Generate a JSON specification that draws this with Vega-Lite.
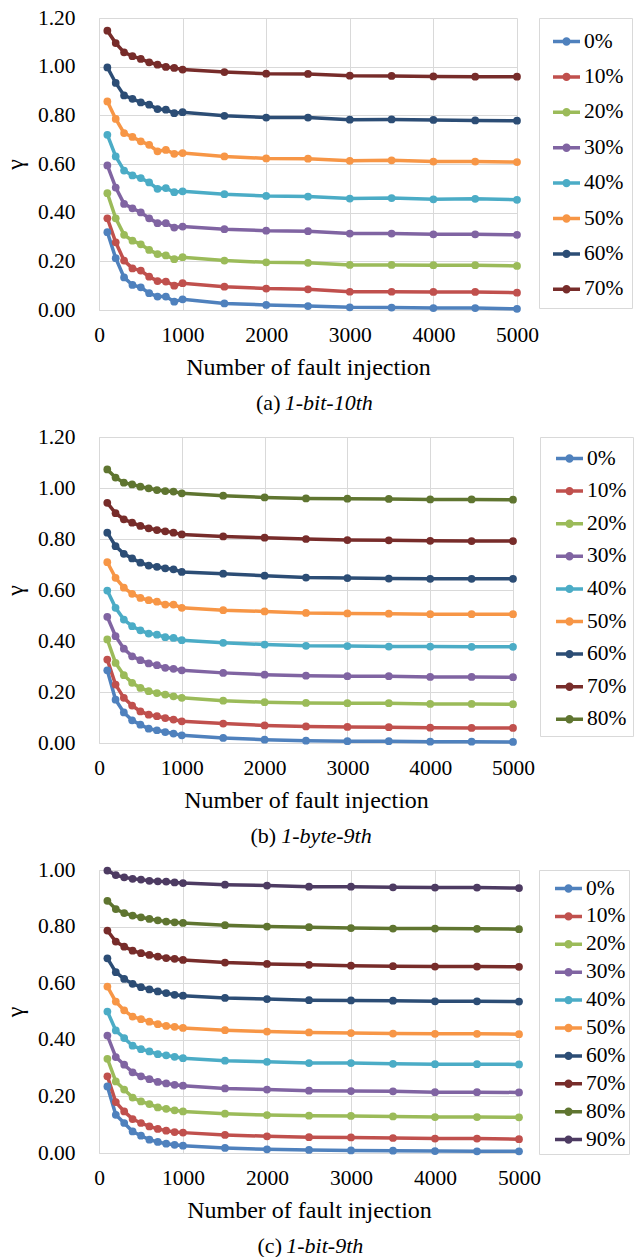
{
"$schema": "https://vega.github.io/schema/vega-lite/v6.json",
"background": "white",
"padding": {"left": 3, "top": 7, "right": 0, "bottom": 0},
"spacing": 12,
"resolve": {"scale": {"color": "independent", "x": "independent", "y": "independent"}, "legend": {"color": "independent"}},
"config": {
  "font": "Liberation Serif",
  "view": {"stroke": null},
  "style": {"guide-label": {"font": "Liberation Serif", "fill": "#000000"}, "guide-title": {"font": "Liberation Serif", "fill": "#000000"}},
  "axis": {"labelFont": "Liberation Serif", "labelFontSize": 21.5, "labelColor": "#000000", "titleFont": "Liberation Serif", "titleFontWeight": "normal", "titleColor": "#000000", "gridColor": "#D9D9D9", "domainColor": "#D9D9D9", "ticks": false, "gridWidth": 1, "domainWidth": 1, "labelFlush": false},
  "axisX": {"labelPadding": 14, "titleFontSize": 24, "titlePadding": 10, "format": "d"},
  "axisY": {"labelPadding": 24, "titleFontSize": 24, "titlePadding": 10},
  "legend": {"title": null, "orient": "right", "strokeColor": "#D9D9D9", "labelFont": "Liberation Serif", "labelFontSize": 21.5, "labelColor": "#000000", "symbolType": "M-1,0L1,0M-0.18,0A0.18,0.18,0,1,1,0.18,0A0.18,0.18,0,1,1,-0.18,0Z", "symbolSize": 729, "symbolStrokeWidth": 3.5, "labelOffset": 2},
  "title": {"font": "Liberation Serif", "fontSize": 22, "fontWeight": "normal", "color": "#000000", "subtitleFont": "Liberation Serif", "subtitleFontSize": 22, "subtitleFontStyle": "italic", "subtitleColor": "#000000", "subtitlePadding": -22, "orient": "bottom", "anchor": "middle", "frame": "group", "offset": 13}
},
"datasets": {
"a": [
{"s":"0%","x":100,"y":0.320},{"s":"0%","x":200,"y":0.213},{"s":"0%","x":300,"y":0.134},{"s":"0%","x":400,"y":0.103},{"s":"0%","x":500,"y":0.093},{"s":"0%","x":600,"y":0.069},{"s":"0%","x":700,"y":0.055},{"s":"0%","x":800,"y":0.055},{"s":"0%","x":900,"y":0.034},{"s":"0%","x":1000,"y":0.044},{"s":"0%","x":1500,"y":0.027},{"s":"0%","x":2000,"y":0.021},{"s":"0%","x":2500,"y":0.016},{"s":"0%","x":3000,"y":0.011},{"s":"0%","x":3500,"y":0.010},{"s":"0%","x":4000,"y":0.008},{"s":"0%","x":4500,"y":0.008},{"s":"0%","x":5000,"y":0.005},
{"s":"10%","x":100,"y":0.377},{"s":"10%","x":200,"y":0.278},{"s":"10%","x":300,"y":0.203},{"s":"10%","x":400,"y":0.171},{"s":"10%","x":500,"y":0.162},{"s":"10%","x":600,"y":0.137},{"s":"10%","x":700,"y":0.119},{"s":"10%","x":800,"y":0.117},{"s":"10%","x":900,"y":0.100},{"s":"10%","x":1000,"y":0.110},{"s":"10%","x":1500,"y":0.096},{"s":"10%","x":2000,"y":0.088},{"s":"10%","x":2500,"y":0.085},{"s":"10%","x":3000,"y":0.075},{"s":"10%","x":3500,"y":0.075},{"s":"10%","x":4000,"y":0.074},{"s":"10%","x":4500,"y":0.074},{"s":"10%","x":5000,"y":0.071},
{"s":"20%","x":100,"y":0.480},{"s":"20%","x":200,"y":0.377},{"s":"20%","x":300,"y":0.309},{"s":"20%","x":400,"y":0.285},{"s":"20%","x":500,"y":0.270},{"s":"20%","x":600,"y":0.247},{"s":"20%","x":700,"y":0.230},{"s":"20%","x":800,"y":0.224},{"s":"20%","x":900,"y":0.209},{"s":"20%","x":1000,"y":0.217},{"s":"20%","x":1500,"y":0.203},{"s":"20%","x":2000,"y":0.196},{"s":"20%","x":2500,"y":0.194},{"s":"20%","x":3000,"y":0.185},{"s":"20%","x":3500,"y":0.185},{"s":"20%","x":4000,"y":0.184},{"s":"20%","x":4500,"y":0.184},{"s":"20%","x":5000,"y":0.181},
{"s":"30%","x":100,"y":0.594},{"s":"30%","x":200,"y":0.503},{"s":"30%","x":300,"y":0.436},{"s":"30%","x":400,"y":0.418},{"s":"30%","x":500,"y":0.401},{"s":"30%","x":600,"y":0.377},{"s":"30%","x":700,"y":0.357},{"s":"30%","x":800,"y":0.357},{"s":"30%","x":900,"y":0.339},{"s":"30%","x":1000,"y":0.343},{"s":"30%","x":1500,"y":0.332},{"s":"30%","x":2000,"y":0.326},{"s":"30%","x":2500,"y":0.324},{"s":"30%","x":3000,"y":0.314},{"s":"30%","x":3500,"y":0.314},{"s":"30%","x":4000,"y":0.311},{"s":"30%","x":4500,"y":0.311},{"s":"30%","x":5000,"y":0.309},
{"s":"40%","x":100,"y":0.720},{"s":"40%","x":200,"y":0.631},{"s":"40%","x":300,"y":0.573},{"s":"40%","x":400,"y":0.553},{"s":"40%","x":500,"y":0.542},{"s":"40%","x":600,"y":0.524},{"s":"40%","x":700,"y":0.498},{"s":"40%","x":800,"y":0.501},{"s":"40%","x":900,"y":0.484},{"s":"40%","x":1000,"y":0.488},{"s":"40%","x":1500,"y":0.476},{"s":"40%","x":2000,"y":0.469},{"s":"40%","x":2500,"y":0.466},{"s":"40%","x":3000,"y":0.458},{"s":"40%","x":3500,"y":0.460},{"s":"40%","x":4000,"y":0.455},{"s":"40%","x":4500,"y":0.457},{"s":"40%","x":5000,"y":0.453},
{"s":"50%","x":100,"y":0.857},{"s":"50%","x":200,"y":0.785},{"s":"50%","x":300,"y":0.727},{"s":"50%","x":400,"y":0.711},{"s":"50%","x":500,"y":0.693},{"s":"50%","x":600,"y":0.679},{"s":"50%","x":700,"y":0.652},{"s":"50%","x":800,"y":0.658},{"s":"50%","x":900,"y":0.642},{"s":"50%","x":1000,"y":0.645},{"s":"50%","x":1500,"y":0.631},{"s":"50%","x":2000,"y":0.623},{"s":"50%","x":2500,"y":0.622},{"s":"50%","x":3000,"y":0.613},{"s":"50%","x":3500,"y":0.615},{"s":"50%","x":4000,"y":0.610},{"s":"50%","x":4500,"y":0.610},{"s":"50%","x":5000,"y":0.608},
{"s":"60%","x":100,"y":0.997},{"s":"60%","x":200,"y":0.933},{"s":"60%","x":300,"y":0.882},{"s":"60%","x":400,"y":0.868},{"s":"60%","x":500,"y":0.853},{"s":"60%","x":600,"y":0.844},{"s":"60%","x":700,"y":0.826},{"s":"60%","x":800,"y":0.823},{"s":"60%","x":900,"y":0.809},{"s":"60%","x":1000,"y":0.813},{"s":"60%","x":1500,"y":0.798},{"s":"60%","x":2000,"y":0.791},{"s":"60%","x":2500,"y":0.791},{"s":"60%","x":3000,"y":0.782},{"s":"60%","x":3500,"y":0.783},{"s":"60%","x":4000,"y":0.781},{"s":"60%","x":4500,"y":0.779},{"s":"60%","x":5000,"y":0.778},
{"s":"70%","x":100,"y":1.148},{"s":"70%","x":200,"y":1.097},{"s":"70%","x":300,"y":1.059},{"s":"70%","x":400,"y":1.043},{"s":"70%","x":500,"y":1.032},{"s":"70%","x":600,"y":1.018},{"s":"70%","x":700,"y":1.008},{"s":"70%","x":800,"y":0.999},{"s":"70%","x":900,"y":0.995},{"s":"70%","x":1000,"y":0.988},{"s":"70%","x":1500,"y":0.978},{"s":"70%","x":2000,"y":0.971},{"s":"70%","x":2500,"y":0.970},{"s":"70%","x":3000,"y":0.963},{"s":"70%","x":3500,"y":0.962},{"s":"70%","x":4000,"y":0.960},{"s":"70%","x":4500,"y":0.959},{"s":"70%","x":5000,"y":0.959}
],
"b": [
{"s":"0%","x":100,"y":0.285},{"s":"0%","x":200,"y":0.170},{"s":"0%","x":300,"y":0.120},{"s":"0%","x":400,"y":0.089},{"s":"0%","x":500,"y":0.072},{"s":"0%","x":600,"y":0.056},{"s":"0%","x":700,"y":0.050},{"s":"0%","x":800,"y":0.043},{"s":"0%","x":900,"y":0.037},{"s":"0%","x":1000,"y":0.030},{"s":"0%","x":1500,"y":0.020},{"s":"0%","x":2000,"y":0.013},{"s":"0%","x":2500,"y":0.009},{"s":"0%","x":3000,"y":0.007},{"s":"0%","x":3500,"y":0.007},{"s":"0%","x":4000,"y":0.005},{"s":"0%","x":4500,"y":0.005},{"s":"0%","x":5000,"y":0.004},
{"s":"10%","x":100,"y":0.327},{"s":"10%","x":200,"y":0.229},{"s":"10%","x":300,"y":0.177},{"s":"10%","x":400,"y":0.147},{"s":"10%","x":500,"y":0.124},{"s":"10%","x":600,"y":0.111},{"s":"10%","x":700,"y":0.105},{"s":"10%","x":800,"y":0.098},{"s":"10%","x":900,"y":0.092},{"s":"10%","x":1000,"y":0.085},{"s":"10%","x":1500,"y":0.076},{"s":"10%","x":2000,"y":0.069},{"s":"10%","x":2500,"y":0.065},{"s":"10%","x":3000,"y":0.063},{"s":"10%","x":3500,"y":0.062},{"s":"10%","x":4000,"y":0.060},{"s":"10%","x":4500,"y":0.059},{"s":"10%","x":5000,"y":0.059},
{"s":"20%","x":100,"y":0.406},{"s":"20%","x":200,"y":0.314},{"s":"20%","x":300,"y":0.266},{"s":"20%","x":400,"y":0.236},{"s":"20%","x":500,"y":0.216},{"s":"20%","x":600,"y":0.203},{"s":"20%","x":700,"y":0.196},{"s":"20%","x":800,"y":0.190},{"s":"20%","x":900,"y":0.183},{"s":"20%","x":1000,"y":0.177},{"s":"20%","x":1500,"y":0.166},{"s":"20%","x":2000,"y":0.160},{"s":"20%","x":2500,"y":0.157},{"s":"20%","x":3000,"y":0.156},{"s":"20%","x":3500,"y":0.156},{"s":"20%","x":4000,"y":0.153},{"s":"20%","x":4500,"y":0.153},{"s":"20%","x":5000,"y":0.152},
{"s":"30%","x":100,"y":0.495},{"s":"30%","x":200,"y":0.419},{"s":"30%","x":300,"y":0.370},{"s":"30%","x":400,"y":0.340},{"s":"30%","x":500,"y":0.325},{"s":"30%","x":600,"y":0.312},{"s":"30%","x":700,"y":0.305},{"s":"30%","x":800,"y":0.295},{"s":"30%","x":900,"y":0.291},{"s":"30%","x":1000,"y":0.285},{"s":"30%","x":1500,"y":0.275},{"s":"30%","x":2000,"y":0.268},{"s":"30%","x":2500,"y":0.264},{"s":"30%","x":3000,"y":0.262},{"s":"30%","x":3500,"y":0.262},{"s":"30%","x":4000,"y":0.259},{"s":"30%","x":4500,"y":0.259},{"s":"30%","x":5000,"y":0.258},
{"s":"40%","x":100,"y":0.598},{"s":"40%","x":200,"y":0.530},{"s":"40%","x":300,"y":0.484},{"s":"40%","x":400,"y":0.458},{"s":"40%","x":500,"y":0.442},{"s":"40%","x":600,"y":0.429},{"s":"40%","x":700,"y":0.425},{"s":"40%","x":800,"y":0.415},{"s":"40%","x":900,"y":0.412},{"s":"40%","x":1000,"y":0.403},{"s":"40%","x":1500,"y":0.393},{"s":"40%","x":2000,"y":0.386},{"s":"40%","x":2500,"y":0.381},{"s":"40%","x":3000,"y":0.380},{"s":"40%","x":3500,"y":0.378},{"s":"40%","x":4000,"y":0.378},{"s":"40%","x":4500,"y":0.377},{"s":"40%","x":5000,"y":0.377},
{"s":"50%","x":100,"y":0.709},{"s":"50%","x":200,"y":0.648},{"s":"50%","x":300,"y":0.609},{"s":"50%","x":400,"y":0.585},{"s":"50%","x":500,"y":0.569},{"s":"50%","x":600,"y":0.560},{"s":"50%","x":700,"y":0.554},{"s":"50%","x":800,"y":0.543},{"s":"50%","x":900,"y":0.543},{"s":"50%","x":1000,"y":0.530},{"s":"50%","x":1500,"y":0.521},{"s":"50%","x":2000,"y":0.516},{"s":"50%","x":2500,"y":0.510},{"s":"50%","x":3000,"y":0.508},{"s":"50%","x":3500,"y":0.507},{"s":"50%","x":4000,"y":0.505},{"s":"50%","x":4500,"y":0.505},{"s":"50%","x":5000,"y":0.505},
{"s":"60%","x":100,"y":0.825},{"s":"60%","x":200,"y":0.772},{"s":"60%","x":300,"y":0.742},{"s":"60%","x":400,"y":0.724},{"s":"60%","x":500,"y":0.707},{"s":"60%","x":600,"y":0.696},{"s":"60%","x":700,"y":0.691},{"s":"60%","x":800,"y":0.685},{"s":"60%","x":900,"y":0.681},{"s":"60%","x":1000,"y":0.671},{"s":"60%","x":1500,"y":0.664},{"s":"60%","x":2000,"y":0.656},{"s":"60%","x":2500,"y":0.649},{"s":"60%","x":3000,"y":0.647},{"s":"60%","x":3500,"y":0.645},{"s":"60%","x":4000,"y":0.644},{"s":"60%","x":4500,"y":0.644},{"s":"60%","x":5000,"y":0.644},
{"s":"70%","x":100,"y":0.942},{"s":"70%","x":200,"y":0.901},{"s":"70%","x":300,"y":0.877},{"s":"70%","x":400,"y":0.864},{"s":"70%","x":500,"y":0.851},{"s":"70%","x":600,"y":0.842},{"s":"70%","x":700,"y":0.835},{"s":"70%","x":800,"y":0.830},{"s":"70%","x":900,"y":0.825},{"s":"70%","x":1000,"y":0.818},{"s":"70%","x":1500,"y":0.810},{"s":"70%","x":2000,"y":0.805},{"s":"70%","x":2500,"y":0.800},{"s":"70%","x":3000,"y":0.796},{"s":"70%","x":3500,"y":0.795},{"s":"70%","x":4000,"y":0.793},{"s":"70%","x":4500,"y":0.792},{"s":"70%","x":5000,"y":0.792},
{"s":"80%","x":100,"y":1.073},{"s":"80%","x":200,"y":1.041},{"s":"80%","x":300,"y":1.021},{"s":"80%","x":400,"y":1.014},{"s":"80%","x":500,"y":1.005},{"s":"80%","x":600,"y":0.999},{"s":"80%","x":700,"y":0.992},{"s":"80%","x":800,"y":0.988},{"s":"80%","x":900,"y":0.986},{"s":"80%","x":1000,"y":0.979},{"s":"80%","x":1500,"y":0.970},{"s":"80%","x":2000,"y":0.963},{"s":"80%","x":2500,"y":0.959},{"s":"80%","x":3000,"y":0.958},{"s":"80%","x":3500,"y":0.957},{"s":"80%","x":4000,"y":0.955},{"s":"80%","x":4500,"y":0.955},{"s":"80%","x":5000,"y":0.954}
],
"c": [
{"s":"0%","x":100,"y":0.235},{"s":"0%","x":200,"y":0.135},{"s":"0%","x":300,"y":0.106},{"s":"0%","x":400,"y":0.076},{"s":"0%","x":500,"y":0.061},{"s":"0%","x":600,"y":0.047},{"s":"0%","x":700,"y":0.039},{"s":"0%","x":800,"y":0.033},{"s":"0%","x":900,"y":0.029},{"s":"0%","x":1000,"y":0.026},{"s":"0%","x":1500,"y":0.018},{"s":"0%","x":2000,"y":0.013},{"s":"0%","x":2500,"y":0.011},{"s":"0%","x":3000,"y":0.009},{"s":"0%","x":3500,"y":0.008},{"s":"0%","x":4000,"y":0.007},{"s":"0%","x":4500,"y":0.006},{"s":"0%","x":5000,"y":0.006},
{"s":"10%","x":100,"y":0.271},{"s":"10%","x":200,"y":0.180},{"s":"10%","x":300,"y":0.147},{"s":"10%","x":400,"y":0.120},{"s":"10%","x":500,"y":0.106},{"s":"10%","x":600,"y":0.094},{"s":"10%","x":700,"y":0.085},{"s":"10%","x":800,"y":0.079},{"s":"10%","x":900,"y":0.074},{"s":"10%","x":1000,"y":0.072},{"s":"10%","x":1500,"y":0.064},{"s":"10%","x":2000,"y":0.059},{"s":"10%","x":2500,"y":0.056},{"s":"10%","x":3000,"y":0.055},{"s":"10%","x":3500,"y":0.053},{"s":"10%","x":4000,"y":0.051},{"s":"10%","x":4500,"y":0.051},{"s":"10%","x":5000,"y":0.049},
{"s":"20%","x":100,"y":0.333},{"s":"20%","x":200,"y":0.253},{"s":"20%","x":300,"y":0.224},{"s":"20%","x":400,"y":0.196},{"s":"20%","x":500,"y":0.182},{"s":"20%","x":600,"y":0.173},{"s":"20%","x":700,"y":0.161},{"s":"20%","x":800,"y":0.156},{"s":"20%","x":900,"y":0.151},{"s":"20%","x":1000,"y":0.147},{"s":"20%","x":1500,"y":0.139},{"s":"20%","x":2000,"y":0.134},{"s":"20%","x":2500,"y":0.132},{"s":"20%","x":3000,"y":0.131},{"s":"20%","x":3500,"y":0.129},{"s":"20%","x":4000,"y":0.127},{"s":"20%","x":4500,"y":0.127},{"s":"20%","x":5000,"y":0.126},
{"s":"30%","x":100,"y":0.415},{"s":"30%","x":200,"y":0.339},{"s":"30%","x":300,"y":0.312},{"s":"30%","x":400,"y":0.285},{"s":"30%","x":500,"y":0.271},{"s":"30%","x":600,"y":0.261},{"s":"30%","x":700,"y":0.251},{"s":"30%","x":800,"y":0.246},{"s":"30%","x":900,"y":0.241},{"s":"30%","x":1000,"y":0.238},{"s":"30%","x":1500,"y":0.228},{"s":"30%","x":2000,"y":0.224},{"s":"30%","x":2500,"y":0.220},{"s":"30%","x":3000,"y":0.219},{"s":"30%","x":3500,"y":0.218},{"s":"30%","x":4000,"y":0.215},{"s":"30%","x":4500,"y":0.215},{"s":"30%","x":5000,"y":0.214},
{"s":"40%","x":100,"y":0.500},{"s":"40%","x":200,"y":0.433},{"s":"40%","x":300,"y":0.406},{"s":"40%","x":400,"y":0.379},{"s":"40%","x":500,"y":0.367},{"s":"40%","x":600,"y":0.359},{"s":"40%","x":700,"y":0.349},{"s":"40%","x":800,"y":0.345},{"s":"40%","x":900,"y":0.340},{"s":"40%","x":1000,"y":0.335},{"s":"40%","x":1500,"y":0.326},{"s":"40%","x":2000,"y":0.322},{"s":"40%","x":2500,"y":0.318},{"s":"40%","x":3000,"y":0.318},{"s":"40%","x":3500,"y":0.315},{"s":"40%","x":4000,"y":0.314},{"s":"40%","x":4500,"y":0.314},{"s":"40%","x":5000,"y":0.313},
{"s":"50%","x":100,"y":0.588},{"s":"50%","x":200,"y":0.535},{"s":"50%","x":300,"y":0.504},{"s":"50%","x":400,"y":0.482},{"s":"50%","x":500,"y":0.473},{"s":"50%","x":600,"y":0.464},{"s":"50%","x":700,"y":0.455},{"s":"50%","x":800,"y":0.449},{"s":"50%","x":900,"y":0.446},{"s":"50%","x":1000,"y":0.442},{"s":"50%","x":1500,"y":0.434},{"s":"50%","x":2000,"y":0.429},{"s":"50%","x":2500,"y":0.426},{"s":"50%","x":3000,"y":0.424},{"s":"50%","x":3500,"y":0.422},{"s":"50%","x":4000,"y":0.421},{"s":"50%","x":4500,"y":0.421},{"s":"50%","x":5000,"y":0.420},
{"s":"60%","x":100,"y":0.688},{"s":"60%","x":200,"y":0.639},{"s":"60%","x":300,"y":0.615},{"s":"60%","x":400,"y":0.598},{"s":"60%","x":500,"y":0.586},{"s":"60%","x":600,"y":0.578},{"s":"60%","x":700,"y":0.571},{"s":"60%","x":800,"y":0.565},{"s":"60%","x":900,"y":0.559},{"s":"60%","x":1000,"y":0.556},{"s":"60%","x":1500,"y":0.548},{"s":"60%","x":2000,"y":0.544},{"s":"60%","x":2500,"y":0.540},{"s":"60%","x":3000,"y":0.539},{"s":"60%","x":3500,"y":0.538},{"s":"60%","x":4000,"y":0.536},{"s":"60%","x":4500,"y":0.536},{"s":"60%","x":5000,"y":0.535},
{"s":"70%","x":100,"y":0.786},{"s":"70%","x":200,"y":0.747},{"s":"70%","x":300,"y":0.729},{"s":"70%","x":400,"y":0.715},{"s":"70%","x":500,"y":0.706},{"s":"70%","x":600,"y":0.700},{"s":"70%","x":700,"y":0.694},{"s":"70%","x":800,"y":0.689},{"s":"70%","x":900,"y":0.686},{"s":"70%","x":1000,"y":0.682},{"s":"70%","x":1500,"y":0.673},{"s":"70%","x":2000,"y":0.668},{"s":"70%","x":2500,"y":0.665},{"s":"70%","x":3000,"y":0.662},{"s":"70%","x":3500,"y":0.660},{"s":"70%","x":4000,"y":0.659},{"s":"70%","x":4500,"y":0.659},{"s":"70%","x":5000,"y":0.658},
{"s":"80%","x":100,"y":0.891},{"s":"80%","x":200,"y":0.862},{"s":"80%","x":300,"y":0.848},{"s":"80%","x":400,"y":0.839},{"s":"80%","x":500,"y":0.833},{"s":"80%","x":600,"y":0.827},{"s":"80%","x":700,"y":0.822},{"s":"80%","x":800,"y":0.818},{"s":"80%","x":900,"y":0.815},{"s":"80%","x":1000,"y":0.813},{"s":"80%","x":1500,"y":0.805},{"s":"80%","x":2000,"y":0.800},{"s":"80%","x":2500,"y":0.798},{"s":"80%","x":3000,"y":0.795},{"s":"80%","x":3500,"y":0.793},{"s":"80%","x":4000,"y":0.793},{"s":"80%","x":4500,"y":0.792},{"s":"80%","x":5000,"y":0.791},
{"s":"90%","x":100,"y":0.998},{"s":"90%","x":200,"y":0.982},{"s":"90%","x":300,"y":0.974},{"s":"90%","x":400,"y":0.969},{"s":"90%","x":500,"y":0.966},{"s":"90%","x":600,"y":0.962},{"s":"90%","x":700,"y":0.960},{"s":"90%","x":800,"y":0.959},{"s":"90%","x":900,"y":0.956},{"s":"90%","x":1000,"y":0.954},{"s":"90%","x":1500,"y":0.948},{"s":"90%","x":2000,"y":0.945},{"s":"90%","x":2500,"y":0.941},{"s":"90%","x":3000,"y":0.941},{"s":"90%","x":3500,"y":0.939},{"s":"90%","x":4000,"y":0.938},{"s":"90%","x":4500,"y":0.938},{"s":"90%","x":5000,"y":0.936}
]
},
"vconcat": [
{
  "width": 418, "height": 292,
  "data": {"name": "a"},
  "title": {"text": "(a)\u00a0\u00a0\u00a0\u00a0\u00a0\u00a0\u00a0\u00a0\u00a0\u00a0\u00a0\u00a0\u00a0\u00a0\u00a0\u00a0\u00a0\u200b", "subtitle": "\u200b\u00a0\u00a0\u00a0\u00a0\u00a01-bit-10th", "dx": 7},
  "encoding": {
    "x": {"field": "x", "type": "quantitative", "scale": {"domain": [0, 5000], "nice": false}, "axis": {"values": [0, 1000, 2000, 3000, 4000, 5000], "title": "Number of fault injection", "labelFont": "Liberation Serif", "titleFont": "Liberation Serif"}},
    "y": {"field": "y", "type": "quantitative", "scale": {"domain": [0, 1.2], "nice": false}, "axis": {"values": [0, 0.2, 0.4, 0.6, 0.8, 1.0, 1.2], "format": ".2f", "title": "γ", "labelFont": "Liberation Serif", "titleFont": "Liberation Serif"}},
    "color": {"field": "s", "type": "nominal", "scale": {"domain": ["0%","10%","20%","30%","40%","50%","60%","70%"], "range": ["#4F81BD","#C0504D","#9BBB59","#8064A2","#4BACC6","#F79646","#2C4D75","#772C2A"]},
      "legend": {"offset": 15, "padding": 8, "symbolOffset": 4, "rowPadding": 9.4, "labelFont": "Liberation Serif",
        "encoding": {"symbols": {"update": {
          "fill": {"signal": "{'0%':'#4F81BD','10%':'#C0504D','20%':'#9BBB59','30%':'#8064A2','40%':'#4BACC6','50%':'#F79646','60%':'#2C4D75','70%':'#772C2A','80%':'#5F7530','90%':'#4D3B62'}[datum.value]"},
          "stroke": {"signal": "{'0%':'#4F81BD','10%':'#C0504D','20%':'#9BBB59','30%':'#8064A2','40%':'#4BACC6','50%':'#F79646','60%':'#2C4D75','70%':'#772C2A','80%':'#5F7530','90%':'#4D3B62'}[datum.value]"},
          "opacity": {"value": 1}, "strokeWidth": {"value": 3.5}}}}}}
  },
  "layer": [
    {"mark": {"type": "line", "strokeWidth": 3.5}},
    {"mark": {"type": "circle", "size": 60, "opacity": 1}}
  ]
},
{
  "width": 414, "height": 306,
  "data": {"name": "b"},
  "title": {"text": "(b)\u00a0\u00a0\u00a0\u00a0\u00a0\u00a0\u00a0\u00a0\u00a0\u00a0\u00a0\u00a0\u00a0\u00a0\u00a0\u00a0\u00a0\u200b", "subtitle": "\u200b\u00a0\u00a0\u00a0\u00a0\u00a0\u00a01-byte-9th", "dx": 4},
  "encoding": {
    "x": {"field": "x", "type": "quantitative", "scale": {"domain": [0, 5000], "nice": false}, "axis": {"values": [0, 1000, 2000, 3000, 4000, 5000], "title": "Number of fault injection", "labelFont": "Liberation Serif", "titleFont": "Liberation Serif"}},
    "y": {"field": "y", "type": "quantitative", "scale": {"domain": [0, 1.2], "nice": false}, "axis": {"values": [0, 0.2, 0.4, 0.6, 0.8, 1.0, 1.2], "format": ".2f", "title": "γ", "labelFont": "Liberation Serif", "titleFont": "Liberation Serif"}},
    "color": {"field": "s", "type": "nominal", "scale": {"domain": ["0%","10%","20%","30%","40%","50%","60%","70%","80%"], "range": ["#4F81BD","#C0504D","#9BBB59","#8064A2","#4BACC6","#F79646","#2C4D75","#772C2A","#5F7530"]},
      "legend": {"offset": 20, "padding": 6, "symbolOffset": 8, "rowPadding": 6.6, "labelFont": "Liberation Serif",
        "encoding": {"symbols": {"update": {
          "fill": {"signal": "{'0%':'#4F81BD','10%':'#C0504D','20%':'#9BBB59','30%':'#8064A2','40%':'#4BACC6','50%':'#F79646','60%':'#2C4D75','70%':'#772C2A','80%':'#5F7530','90%':'#4D3B62'}[datum.value]"},
          "stroke": {"signal": "{'0%':'#4F81BD','10%':'#C0504D','20%':'#9BBB59','30%':'#8064A2','40%':'#4BACC6','50%':'#F79646','60%':'#2C4D75','70%':'#772C2A','80%':'#5F7530','90%':'#4D3B62'}[datum.value]"},
          "opacity": {"value": 1}, "strokeWidth": {"value": 3.5}}}}}}
  },
  "layer": [
    {"mark": {"type": "line", "strokeWidth": 3.5}},
    {"mark": {"type": "circle", "size": 60, "opacity": 1}}
  ]
},
{
  "width": 420, "height": 283,
  "data": {"name": "c"},
  "title": {"text": "(c)\u00a0\u00a0\u00a0\u00a0\u00a0\u00a0\u00a0\u00a0\u00a0\u00a0\u00a0\u00a0\u00a0\u00a0\u00a0\u200b", "subtitle": "\u200b\u00a0\u00a0\u00a0\u00a0\u00a01-bit-9th", "dx": 2},
  "encoding": {
    "x": {"field": "x", "type": "quantitative", "scale": {"domain": [0, 5000], "nice": false}, "axis": {"values": [0, 1000, 2000, 3000, 4000, 5000], "title": "Number of fault injection", "labelFont": "Liberation Serif", "titleFont": "Liberation Serif"}},
    "y": {"field": "y", "type": "quantitative", "scale": {"domain": [0, 1.0], "nice": false}, "axis": {"values": [0, 0.2, 0.4, 0.6, 0.8, 1.0], "format": ".2f", "title": "γ", "labelFont": "Liberation Serif", "titleFont": "Liberation Serif"}},
    "color": {"field": "s", "type": "nominal", "scale": {"domain": ["0%","10%","20%","30%","40%","50%","60%","70%","80%","90%"], "range": ["#4F81BD","#C0504D","#9BBB59","#8064A2","#4BACC6","#F79646","#2C4D75","#772C2A","#5F7530","#4D3B62"]},
      "legend": {"offset": 13, "padding": 3, "symbolOffset": 11, "rowPadding": 1.9, "labelFont": "Liberation Serif",
        "encoding": {"symbols": {"update": {
          "fill": {"signal": "{'0%':'#4F81BD','10%':'#C0504D','20%':'#9BBB59','30%':'#8064A2','40%':'#4BACC6','50%':'#F79646','60%':'#2C4D75','70%':'#772C2A','80%':'#5F7530','90%':'#4D3B62'}[datum.value]"},
          "stroke": {"signal": "{'0%':'#4F81BD','10%':'#C0504D','20%':'#9BBB59','30%':'#8064A2','40%':'#4BACC6','50%':'#F79646','60%':'#2C4D75','70%':'#772C2A','80%':'#5F7530','90%':'#4D3B62'}[datum.value]"},
          "opacity": {"value": 1}, "strokeWidth": {"value": 3.5}}}}}}
  },
  "layer": [
    {"mark": {"type": "line", "strokeWidth": 3.5}},
    {"mark": {"type": "circle", "size": 60, "opacity": 1}}
  ]
}
]
}
